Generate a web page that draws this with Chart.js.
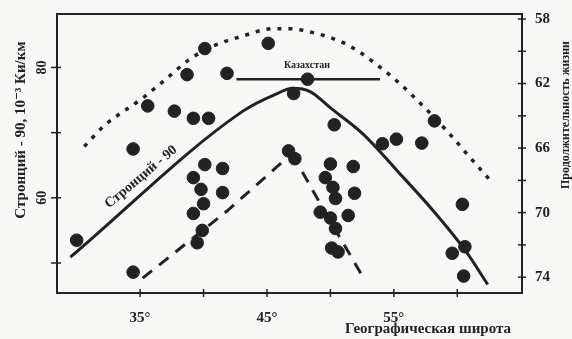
<!DOCTYPE html>
<html>
<head>
<meta charset="utf-8">
<script src="https://cdn.jsdelivr.net/npm/chart.js@4.4.1/dist/chart.umd.min.js"></script>
<style>
  html, body { margin: 0; padding: 0; background: #f7f7f5; }
  #wrap { width: 572px; height: 339px; position: relative; }
</style>
</head>
<body>
<div id="wrap"><canvas id="chart"></canvas></div>
<script>
// оси
const latTicks = [35, 40, 45, 50, 55, 60];
const latTickLabels = ['35°', '', '45°', '', '55°', ''];
const srTicks = [50, 60, 70, 80];
const srTickLabels = ['', '60', '', '80'];
const lifeTicks = [58, 60, 62, 64, 66, 68, 70, 72, 74];
const lifeTickLabels = ['58', '', '62', '', '66', '', '70', '', '74'];

// точки: широта / стронций-90
const pointLat = [30.0, 34.45, 34.45, 35.6, 37.7, 39.2, 40.4, 38.7, 40.1, 41.85,
  45.1, 48.2, 47.1, 50.3, 46.7, 47.2, 40.1, 41.5, 39.2, 41.5,
  39.8, 40.0, 39.2, 39.9, 39.5, 50.0, 51.8, 49.6, 50.2, 51.9,
  50.4, 49.2, 50.0, 51.4, 50.4, 50.1, 50.6, 55.2, 54.1, 57.2,
  58.2, 60.4, 60.6, 59.6, 60.5];
const pointSr = [53.5, 48.6, 67.5, 74.1, 73.3, 72.2, 72.2, 78.9, 82.9, 79.1,
  83.7, 78.2, 76.0, 71.2, 67.2, 66.0, 65.1, 64.5, 63.1, 60.8,
  61.3, 59.1, 57.6, 55.0, 53.1, 65.2, 64.8, 63.1, 61.6, 60.7,
  59.9, 57.8, 56.9, 57.3, 55.3, 52.3, 51.7, 69.0, 68.3, 68.4,
  71.8, 59.0, 52.5, 51.5, 48.0];

// кривая стронций-90
const srCurveLat = [29.5, 43.1, 45.8, 47.0, 48.4, 50.0, 52.56, 55.24, 58.2, 60.6, 62.4];
const srCurveVal = [50.9, 73.3, 76.0, 76.8, 76.3, 73.8, 69.8, 64.2, 57.8, 52.0, 46.7];

// продолжительность жизни (верхняя, точки)
const lifeUpperLat = [30.6, 32.2, 35.2, 37.0, 38.9, 40.7, 43.1, 45.5, 46.65, 48.9, 51.1, 52.2, 53.1, 55.1, 56.8, 59.2, 60.8, 62.6];
const lifeUpperVal = [65.9, 64.6, 62.9, 61.75, 60.5, 59.7, 59.05, 58.6, 58.6, 58.9, 59.5, 60.0, 60.5, 61.75, 63.0, 64.95, 66.4, 68.0];

// продолжительность жизни (нижняя, штрих)
const lifeLowerLat = [35.2, 41.85, 46.3, 46.8, 47.3, 49.6, 52.5];
const lifeLowerVal = [74.06, 69.9, 66.8, 66.6, 66.8, 70.0, 73.9];

// Казахстан
const kazLat = [42.6, 53.9];
const kazSr = [78.2, 78.2];

const ink = '#222';
const serif = '"Liberation Serif", "DejaVu Serif", serif';

function xy(xs, ys) {
    return xs.map((x, i) => ({ x: x, y: ys[i] }));
}

function setTicks(values) {
    return function (scale) {
        scale.ticks = values.map(v => ({ value: v }));
    };
}

const decor = {
    id: 'decor',
    afterDraw(chart) {
        const ctx = chart.ctx;
        const a = chart.chartArea;
        const sx = chart.scales.x, sy = chart.scales.y, sy2 = chart.scales.y2;
        ctx.save();
        ctx.strokeStyle = ink;
        ctx.fillStyle = ink;
        ctx.lineWidth = 2;
        ctx.strokeRect(a.left, a.top, a.right - a.left, a.bottom - a.top);

        // засечки
        ctx.lineWidth = 1.5;
        latTicks.forEach(v => {
            const px = sx.getPixelForValue(v);
            ctx.beginPath(); ctx.moveTo(px, a.bottom - 4); ctx.lineTo(px, a.bottom + 4); ctx.stroke();
        });
        srTicks.forEach(v => {
            const py = sy.getPixelForValue(v);
            ctx.beginPath(); ctx.moveTo(a.left - 6, py); ctx.lineTo(a.left + 4, py); ctx.stroke();
        });
        lifeTicks.forEach(v => {
            const py = sy2.getPixelForValue(v);
            ctx.beginPath(); ctx.moveTo(a.right - 4, py); ctx.lineTo(a.right + 4, py); ctx.stroke();
        });

        // подписи левой оси (повёрнуты)
        ctx.font = 'bold 14px ' + serif;
        ctx.textAlign = 'center';
        ctx.textBaseline = 'middle';
        srTicks.forEach((v, i) => {
            if (!srTickLabels[i]) return;
            const py = sy.getPixelForValue(v);
            ctx.save();
            ctx.translate(a.left - 15, py);
            ctx.rotate(-Math.PI / 2);
            ctx.fillText(srTickLabels[i], 0, 0);
            ctx.restore();
        });

        // заголовок левой оси
        ctx.save();
        ctx.translate(21, 130);
        ctx.rotate(-Math.PI / 2);
        ctx.font = 'bold 15px ' + serif;
        ctx.fillText('Стронций - 90, 10⁻³ Ки/км', 0, 0, 225);
        ctx.restore();

        // заголовок правой оси
        ctx.save();
        ctx.translate(566, 115);
        ctx.rotate(-Math.PI / 2);
        ctx.font = 'bold 12px ' + serif;
        ctx.fillText('Продолжительность жизни', 0, 0, 185);
        ctx.restore();

        // заголовок нижней оси
        ctx.font = 'bold 15px ' + serif;
        ctx.fillText('Географическая широта', 428, 329, 193);

        // Казахстан
        ctx.font = 'bold 10px ' + serif;
        ctx.fillText('Казахстан', 307, 65, 62);

        // подпись вдоль кривой
        ctx.save();
        ctx.translate(141, 177);
        ctx.rotate(-40 * Math.PI / 180);
        ctx.font = 'bold 14px ' + serif;
        ctx.fillText('Стронций - 90', 0, 0);
        ctx.restore();
        ctx.restore();
    }
};

document.addEventListener('DOMContentLoaded', function () {
    const ctx = document.getElementById('chart').getContext('2d');
    new Chart(ctx, {
        type: 'scatter',
        data: {
            datasets: [{
                label: 'Стронций - 90',
                data: xy(srCurveLat, srCurveVal),
                showLine: true,
                borderColor: ink,
                borderWidth: 3,
                pointRadius: 0,
                cubicInterpolationMode: 'monotone',
                yAxisID: 'y'
            }, {
                label: 'Продолжительность жизни (верх)',
                data: xy(lifeUpperLat, lifeUpperVal),
                showLine: true,
                borderColor: ink,
                borderWidth: 3.5,
                borderDash: [4, 7],
                pointRadius: 0,
                cubicInterpolationMode: 'monotone',
                yAxisID: 'y2'
            }, {
                label: 'Продолжительность жизни (низ)',
                data: xy(lifeLowerLat, lifeLowerVal),
                showLine: true,
                borderColor: ink,
                borderWidth: 3,
                borderDash: [12, 9],
                pointRadius: 0,
                tension: 0,
                yAxisID: 'y2'
            }, {
                label: 'Казахстан',
                data: xy(kazLat, kazSr),
                showLine: true,
                borderColor: ink,
                borderWidth: 2.5,
                pointRadius: 0,
                yAxisID: 'y'
            }, {
                label: 'Данные',
                data: xy(pointLat, pointSr),
                backgroundColor: ink,
                borderColor: ink,
                pointRadius: 6.3,
                yAxisID: 'y'
            }]
        },
        options: {
            responsive: true,
            maintainAspectRatio: false,
            animation: false,
            layout: { padding: { top: 12, left: 0, right: 0, bottom: 0 } },
            plugins: {
                legend: { display: false },
                tooltip: { enabled: false }
            },
            scales: {
                x: {
                    type: 'linear',
                    min: 28.45,
                    max: 65.1,
                    afterBuildTicks: setTicks(latTicks),
                    afterFit: function (s) { s.height = 46; },
                    grid: { display: false },
                    border: { display: false },
                    ticks: {
                        autoSkip: false,
                        maxRotation: 0,
                        padding: 8,
                        color: ink,
                        font: { family: serif, size: 15, weight: 'bold' },
                        callback: function (v) {
                            const i = latTicks.indexOf(v);
                            return i >= 0 ? latTickLabels[i] : '';
                        }
                    }
                },
                y: {
                    type: 'linear',
                    position: 'left',
                    min: 45.4,
                    max: 88.2,
                    afterBuildTicks: setTicks(srTicks),
                    afterFit: function (s) { s.width = 57; },
                    grid: { display: false },
                    border: { display: false },
                    ticks: { display: false }
                },
                y2: {
                    type: 'linear',
                    position: 'right',
                    reverse: true,
                    min: 57.69,
                    max: 74.98,
                    afterBuildTicks: setTicks(lifeTicks),
                    afterFit: function (s) { s.width = 50; },
                    grid: { display: false },
                    border: { display: false },
                    ticks: {
                        autoSkip: false,
                        padding: 5,
                        color: ink,
                        font: { family: serif, size: 15, weight: 'bold' },
                        callback: function (v) {
                            const i = lifeTicks.indexOf(v);
                            return i >= 0 ? lifeTickLabels[i] : '';
                        }
                    }
                }
            }
        },
        plugins: [decor]
    });
});
</script>
</body>
</html>
